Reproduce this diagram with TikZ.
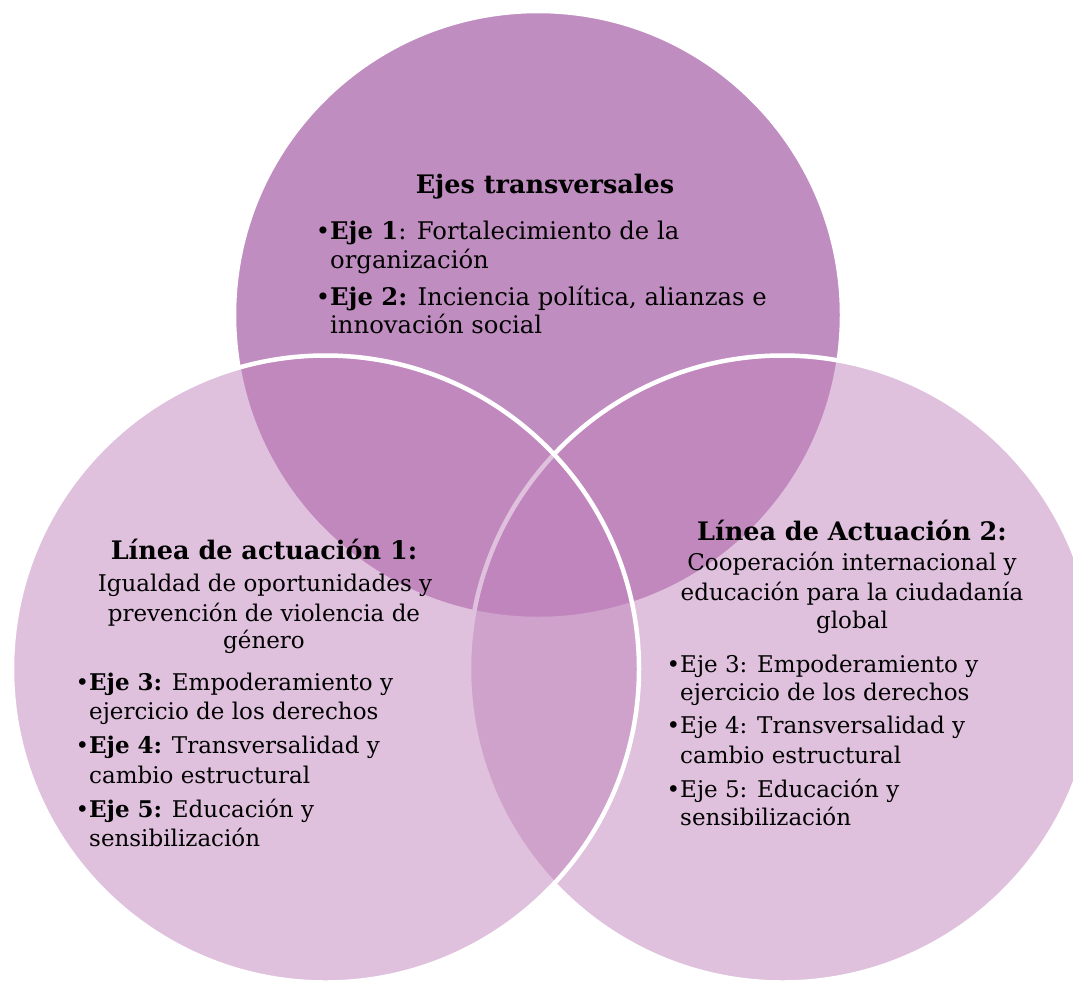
\documentclass[tikz,border=0pt]{standalone}
\usepackage{fontspec}
\setmainfont{DejaVu Serif}
\definecolor{topfill}{RGB}{192,141,192}
\definecolor{lowfill}{RGB}{193,132,188}
\tikzset{
  topcirc/.style={fill=topfill, draw=white, line width=4.5pt},
  lowcirc/.style={fill=lowfill, fill opacity=0.5, draw=white, draw opacity=1, line width=4.5pt},
  headtxt/.style={inner sep=0pt, anchor=base, font=\fontsize{25.5pt}{30pt}\selectfont\bfseries},
  ctxt/.style={inner sep=0pt, anchor=base, font=\fontsize{23pt}{28pt}\selectfont},
  ltxt/.style={inner sep=0pt, anchor=base west, font=\fontsize{23pt}{28pt}\selectfont},
  toptxt/.style={inner sep=0pt, anchor=base west, font=\fontsize{24.3pt}{29pt}\selectfont}
}
\newcommand{\bul}{\llap{•}}
\begin{document}
\begin{tikzpicture}[x=1pt,y=-1pt]
\useasboundingbox (0,0) rectangle (1073,980);
\fill[white] (0,0) rectangle (1073,980);
\clip (0,0) rectangle (1073,980);
% circles
\path[topcirc] (538,315) circle[radius=304pt];
\path[lowcirc] (782.5,669) circle[radius=313.5pt];
\path[lowcirc] (325.5,669) circle[radius=313.5pt];
% top circle text
\node[headtxt] (tT) at (545,193) {Ejes transversales};
\node[toptxt] (t1a) at (330,239) {\bul\textbf{Eje 1}: Fortalecimiento de la};
\node[toptxt] (t1b) at (330,268) {organización};
\node[toptxt] (t2a) at (330,305) {\bul\textbf{Eje 2:} Inciencia política, alianzas e};
\node[toptxt] (t2b) at (330,333) {innovación social};
% left circle text
\node[headtxt] (lT) at (264,559) {Línea de actuación 1:};
\node[ctxt] (l1) at (265,591) {Igualdad de oportunidades y};
\node[ctxt] (l2) at (264,621) {prevención de violencia de};
\node[ctxt] (l3) at (264,648) {género};
\node[ltxt] (l4) at (89,690) {\bul\textbf{Eje 3:} Empoderamiento y};
\node[ltxt] (l5) at (89,719) {ejercicio de los derechos};
\node[ltxt] (l6) at (89,753) {\bul\textbf{Eje 4:} Transversalidad y};
\node[ltxt] (l7) at (89,783) {cambio estructural};
\node[ltxt] (l8) at (89,817) {\bul\textbf{Eje 5:} Educación y};
\node[ltxt] (l9) at (89,846) {sensibilización};
% right circle text
\node[headtxt] (rT) at (852,540) {Línea de Actuación 2:};
\node[ctxt] (r1) at (852,570) {Cooperación internacional y};
\node[ctxt] (r2) at (852,600) {educación para la ciudadanía};
\node[ctxt] (r3) at (852,628) {global};
\node[ltxt] (r4) at (680,672) {\bul Eje 3: Empoderamiento y};
\node[ltxt] (r5) at (680,700) {ejercicio de los derechos};
\node[ltxt] (r6) at (680,733) {\bul Eje 4: Transversalidad y};
\node[ltxt] (r7) at (680,763) {cambio estructural};
\node[ltxt] (r8) at (680,797) {\bul Eje 5: Educación y};
\node[ltxt] (r9) at (680,825) {sensibilización};
\end{tikzpicture}
\end{document}
